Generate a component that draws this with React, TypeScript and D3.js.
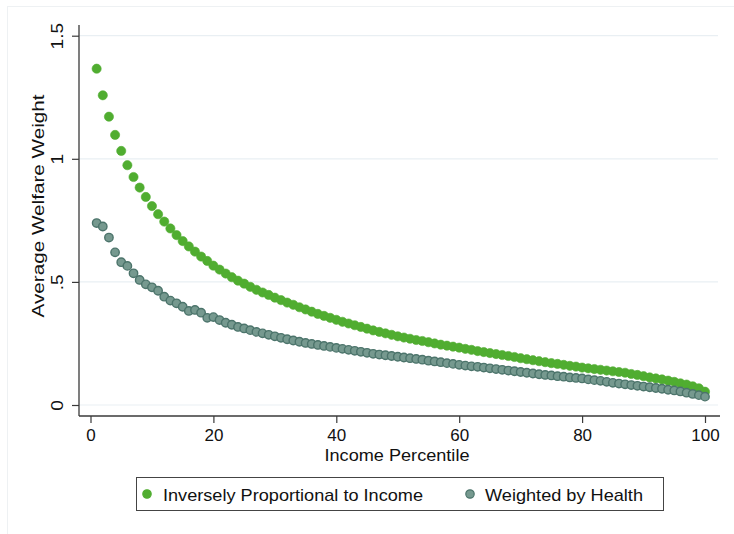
import * as d3 from "d3";
import { useEffect, useRef } from "react";

// percentile 1..100 on the x axis
const percentiles = d3.range(1, 101);

const inverseIncome = [
  1.366, 1.258, 1.171, 1.097, 1.032, 0.974, 0.926, 0.883, 0.845, 0.808,
  0.775, 0.745, 0.717, 0.69, 0.666, 0.644, 0.623, 0.603, 0.585, 0.566,
  0.55, 0.534, 0.519, 0.505, 0.493, 0.48, 0.468, 0.457, 0.447, 0.436,
  0.426, 0.416, 0.407, 0.397, 0.388, 0.379, 0.37, 0.362, 0.354, 0.346,
  0.338, 0.331, 0.324, 0.317, 0.31, 0.303, 0.297, 0.291, 0.285, 0.279,
  0.274, 0.269, 0.264, 0.26, 0.255, 0.25, 0.245, 0.241, 0.237, 0.233,
  0.228, 0.224, 0.219, 0.215, 0.211, 0.207, 0.203, 0.199, 0.195, 0.19,
  0.186, 0.182, 0.178, 0.174, 0.17, 0.167, 0.163, 0.159, 0.156, 0.152,
  0.149, 0.146, 0.143, 0.14, 0.137, 0.134, 0.131, 0.126, 0.122, 0.117,
  0.112, 0.108, 0.104, 0.099, 0.094, 0.088, 0.083, 0.076, 0.068, 0.054,
];

const healthWeighted = [
  0.739, 0.725, 0.68, 0.62, 0.58, 0.565, 0.535, 0.508, 0.49, 0.478,
  0.464, 0.44, 0.424, 0.413, 0.399, 0.382, 0.386, 0.375, 0.354, 0.357,
  0.345, 0.334, 0.326, 0.317, 0.311, 0.304, 0.297, 0.291, 0.285, 0.279,
  0.273, 0.267, 0.262, 0.257, 0.252, 0.248, 0.244, 0.24, 0.236, 0.232,
  0.228, 0.224, 0.22, 0.216, 0.212, 0.208, 0.205, 0.202, 0.199, 0.196,
  0.193, 0.19, 0.187, 0.184, 0.18, 0.177, 0.174, 0.17, 0.167, 0.163,
  0.16, 0.157, 0.155, 0.152, 0.149, 0.146, 0.143, 0.14, 0.137, 0.134,
  0.131, 0.128, 0.125, 0.122, 0.12, 0.117, 0.115, 0.112, 0.11, 0.108,
  0.104, 0.101, 0.098, 0.094, 0.09, 0.087, 0.084, 0.081, 0.078, 0.075,
  0.072, 0.069, 0.066, 0.062, 0.059, 0.055, 0.05, 0.045, 0.04, 0.034,
];

const yTicks = [0, 0.5, 1, 1.5];
const yTickLabels = ["0", ".5", "1", "1.5"];
const xTicks = [0, 20, 40, 60, 80, 100];
const seriesNames = ["Inversely Proportional to Income", "Weighted by Health"];

const FONT = "'Liberation Sans', Arial, Helvetica, sans-serif";
const GREEN = "#50ad30";
const GRAY_FILL = "#76998f";
const GRAY_STROKE = "#4c746b";

export default function App() {
  const svgRef = useRef<SVGSVGElement | null>(null);

  useEffect(() => {
    if (!svgRef.current) return;
    const svg = d3.select(svgRef.current);
    svg.selectAll("*").remove();

    const width = 734;
    const height = 534;
    const plot = { left: 79, right: 718, top: 25, bottom: 416 };

    const x = d3.scaleLinear().domain([0, 100]).range([90.5, 705]);
    const y = d3.scaleLinear().domain([0, 1.5]).range([405, 35.7]);

    svg.attr("width", width).attr("height", height);
    svg
      .append("rect")
      .attr("width", width)
      .attr("height", height)
      .attr("fill", "#fff");

    // faint outer frame (only top / left edges fall inside the picture)
    svg
      .append("rect")
      .attr("x", 7.5)
      .attr("y", 6.5)
      .attr("width", 760)
      .attr("height", 560)
      .attr("fill", "none")
      .attr("stroke", "#eef1f3")
      .attr("stroke-width", 1);

    // gridlines
    svg
      .append("g")
      .selectAll("line")
      .data(yTicks)
      .enter()
      .append("line")
      .attr("x1", plot.left)
      .attr("x2", plot.right)
      .attr("y1", (d) => y(d))
      .attr("y2", (d) => y(d))
      .attr("stroke", "#e9eff3")
      .attr("stroke-width", 1.2);

    // y axis
    const yAxis = svg
      .append("g")
      .attr("transform", `translate(${plot.left},0)`)
      .call(
        d3
          .axisLeft(y)
          .tickValues(yTicks)
          .tickSize(7)
          .tickFormat((_, i) => yTickLabels[i]),
      );
    yAxis.select(".domain").remove();
    yAxis
      .append("line")
      .attr("x1", 0)
      .attr("x2", 0)
      .attr("y1", plot.top)
      .attr("y2", plot.bottom)
      .attr("stroke", "#3a3a3a")
      .attr("stroke-width", 1.3);
    yAxis.selectAll(".tick line").attr("stroke", "#3a3a3a").attr("stroke-width", 1.2);
    yAxis
      .selectAll(".tick text")
      .attr("font-family", FONT)
      .attr("font-size", 17)
      .attr("fill", "#111")
      .attr("text-anchor", "middle")
      .attr("dy", null)
      .attr("x", null)
      .attr("transform", "translate(-22,0) rotate(-90) scale(1.12,1)")
      .attr("dominant-baseline", "central");

    // x axis
    const xAxis = svg
      .append("g")
      .attr("transform", `translate(0,${plot.bottom})`)
      .call(
        d3
          .axisBottom(x)
          .tickValues(xTicks)
          .tickSize(7)
          .tickPadding(6)
          .tickFormat(d3.format("d")),
      );
    xAxis.select(".domain").remove();
    xAxis
      .append("line")
      .attr("x1", plot.left)
      .attr("x2", plot.right + 2)
      .attr("y1", 0)
      .attr("y2", 0)
      .attr("stroke", "#3a3a3a")
      .attr("stroke-width", 1.3);
    xAxis.selectAll(".tick line").attr("stroke", "#3a3a3a").attr("stroke-width", 1.2);
    xAxis
      .selectAll(".tick text")
      .attr("font-family", FONT)
      .attr("font-size", 17)
      .attr("fill", "#111");

    // axis titles
    svg
      .append("text")
      .attr("x", 397)
      .attr("y", 461)
      .attr("text-anchor", "middle")
      .attr("font-family", FONT)
      .attr("font-size", 17)
      .attr("fill", "#111")
      .attr("textLength", 145)
      .attr("lengthAdjust", "spacingAndGlyphs")
      .text("Income Percentile");

    svg
      .append("text")
      .attr("transform", `translate(44,206) rotate(-90)`)
      .attr("text-anchor", "middle")
      .attr("font-family", FONT)
      .attr("font-size", 17)
      .attr("fill", "#111")
      .attr("textLength", 223)
      .attr("lengthAdjust", "spacingAndGlyphs")
      .text("Average Welfare Weight");

    // series
    const r = 4.6;
    svg
      .append("g")
      .selectAll("circle")
      .data(percentiles)
      .enter()
      .append("circle")
      .attr("cx", (d) => x(d))
      .attr("cy", (_, i) => y(inverseIncome[i]))
      .attr("r", r)
      .attr("fill", GREEN)
      .attr("stroke", GREEN)
      .attr("stroke-width", 0.6);

    svg
      .append("g")
      .selectAll("circle")
      .data(percentiles)
      .enter()
      .append("circle")
      .attr("cx", (d) => x(d))
      .attr("cy", (_, i) => y(healthWeighted[i]))
      .attr("r", r - 0.4)
      .attr("fill", GRAY_FILL)
      .attr("stroke", GRAY_STROKE)
      .attr("stroke-width", 1.4);

    // legend
    const legend = svg.append("g");
    legend
      .append("rect")
      .attr("x", 136.5)
      .attr("y", 477.5)
      .attr("width", 527)
      .attr("height", 33)
      .attr("fill", "#fff")
      .attr("stroke", "#444")
      .attr("stroke-width", 1);

    const items = [
      { name: seriesNames[0], cx: 147, tx: 163, len: 260, fill: GREEN, stroke: GREEN },
      { name: seriesNames[1], cx: 470, tx: 485, len: 158, fill: GRAY_FILL, stroke: GRAY_STROKE },
    ];
    legend
      .selectAll("circle")
      .data(items)
      .enter()
      .append("circle")
      .attr("cx", (d) => d.cx)
      .attr("cy", 494)
      .attr("r", 4.2)
      .attr("fill", (d) => d.fill)
      .attr("stroke", (d) => d.stroke)
      .attr("stroke-width", 1.2);
    legend
      .selectAll("text")
      .data(items)
      .enter()
      .append("text")
      .attr("x", (d) => d.tx)
      .attr("y", 500.5)
      .attr("font-family", FONT)
      .attr("font-size", 17)
      .attr("fill", "#111")
      .attr("textLength", (d) => d.len)
      .attr("lengthAdjust", "spacingAndGlyphs")
      .text((d) => d.name);
  }, []);

  return (
    <div style={{ position: "absolute", left: 0, top: 0 }}>
      <svg ref={svgRef} style={{ display: "block" }} />
    </div>
  );
}
